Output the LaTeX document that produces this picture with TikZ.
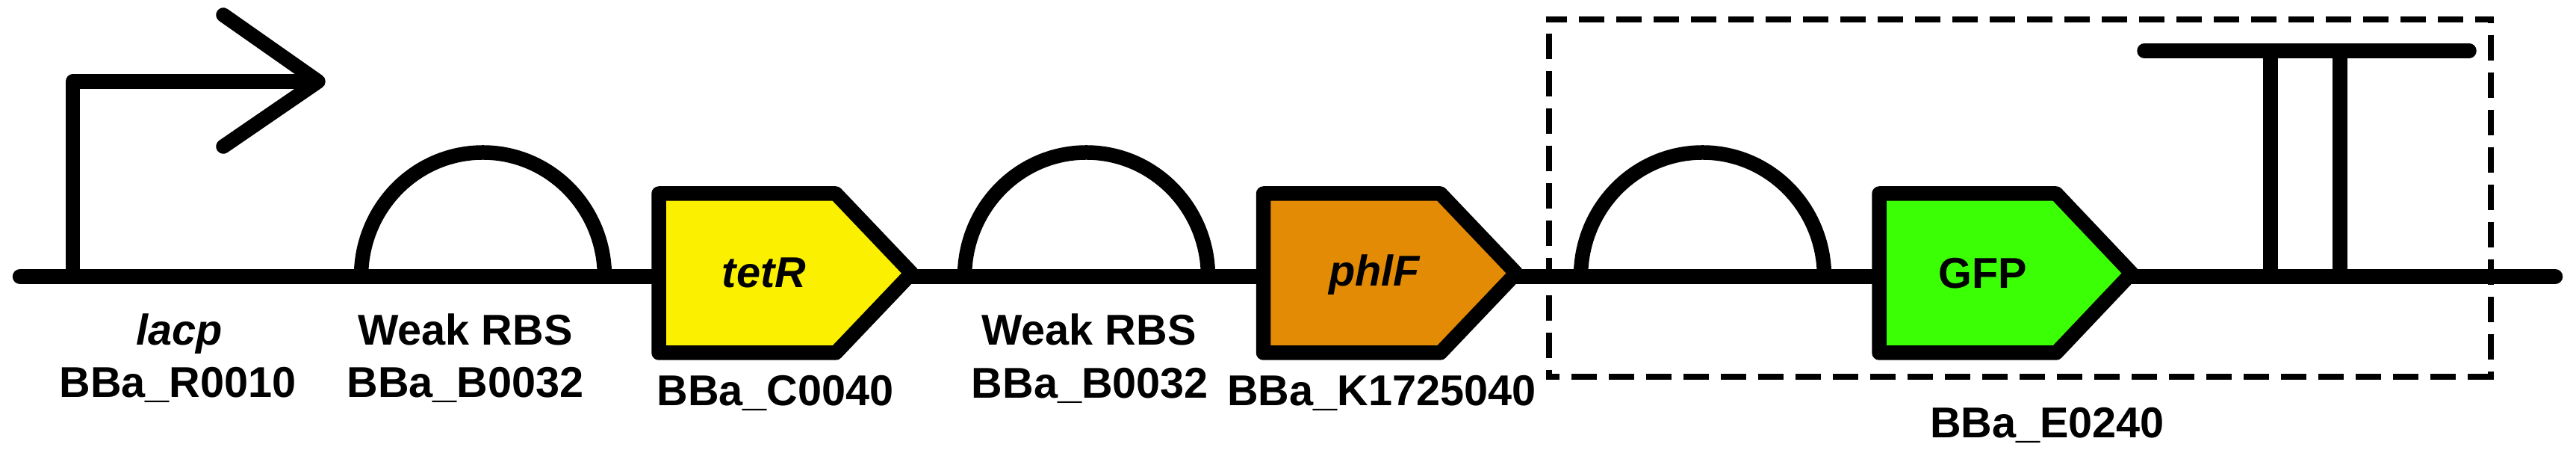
\documentclass[tikz,border=0pt]{standalone}
\usepackage{fontspec}
\setmainfont{Liberation Sans}
\definecolor{tetryellow}{RGB}{250,240,0}
\definecolor{phlforange}{RGB}{228,139,5}
\definecolor{gfpgreen}{RGB}{58,255,5}

\begin{document}
\begin{tikzpicture}[line width=0.195cm,line join=round,
    lbl/.style={inner sep=0pt,anchor=base,line width=0pt,font=\fontsize{16.4}{20}\selectfont\bfseries},
    ilbl/.style={lbl,font=\fontsize{16.4}{20}\selectfont\bfseries\itshape},
    boxdash/.style={line width=0.08cm,dash pattern=on 0.34cm off 0.16cm,shorten <=-0.04cm,shorten >=-0.04cm},
    cds/.style={draw=black,line width=0.195cm},
    rbs/.style={draw=black,line width=0.195cm}]
    \useasboundingbox (0,0) rectangle (34.49,6.10);

    \coordinate (start) at (0.27,2.40);
    \coordinate (end) at (34.21,2.40);
    \coordinate (promoter) at (0.975,2.40);
    \coordinate (term1) at (30.40,2.40);
    \coordinate (term2) at (31.33,2.40);
    \coordinate (nw) at (20.735,5.835);
    \coordinate (ne) at (33.35,5.835);
    \coordinate (sw) at (20.735,1.06);
    \coordinate (se) at (33.35,1.06);

    \draw[line cap=round,line width=0.205cm] (start) -- (end);

    \draw (promoter) -- (0.975,5.01) -- (4.26,5.01);
    \draw[line cap=round] (2.99,5.90) -- (4.26,5.01) -- (2.99,4.14);

    \draw[rbs] (4.835,2.40) arc[start angle=180,end angle=0,x radius=1.63,y radius=1.66] -- cycle;
    \draw[rbs] (12.915,2.40) arc[start angle=180,end angle=0,x radius=1.63,y radius=1.66] -- cycle;
    \draw[rbs] (21.165,2.40) arc[start angle=180,end angle=0,x radius=1.63,y radius=1.66] -- cycle;

    \draw[cds,fill=tetryellow] (8.82,3.51) -- (11.19,3.51) -- (12.205,2.445) -- (11.19,1.38) -- (8.82,1.38) -- cycle;
    \draw[cds,fill=phlforange] (16.915,3.51) -- (19.285,3.51) -- (20.30,2.445) -- (19.285,1.38) -- (16.915,1.38) -- cycle;
    \draw[cds,fill=gfpgreen] (25.16,3.51) -- (27.53,3.51) -- (28.54,2.445) -- (27.53,1.38) -- (25.16,1.38) -- cycle;

    \draw (term1) -- (30.40,5.42);
    \draw (term2) -- (31.33,5.42);
    \draw[line cap=round] (28.71,5.42) -- (33.06,5.42);

    \draw[boxdash,dash phase=0.06cm] (nw) -- (ne);
    \draw[boxdash,dash phase=0.278cm] (nw) -- (sw);
    \draw[boxdash,dash phase=0.258cm] (ne) -- (se);
    \draw[boxdash,dash phase=0.155cm] (sw) -- (se);

    \node[ilbl] (lacp) at (2.40,1.48) {lacp};
    \node[lbl] (r0010) at (2.38,0.78) {BBa\_R0010};
    \node[lbl] (weak1) at (6.23,1.48) {Weak RBS};
    \node[lbl] (b0032a) at (6.23,0.78) {BBa\_B0032};
    \node[ilbl] (tetr) at (10.23,2.255) {tetR};
    \node[lbl] (c0040) at (10.38,0.67) {BBa\_C0040};
    \node[lbl] (weak2) at (14.58,1.48) {Weak RBS};
    \node[lbl] (b0032b) at (14.595,0.77) {BBa\_B0032};
    \node[ilbl] (phlf) at (18.40,2.275) {phlF};
    \node[lbl] (k1725040) at (18.50,0.67) {BBa\_K1725040};
    \node[lbl] (gfp) at (26.55,2.24) {GFP};
    \node[lbl] (e0240) at (27.41,0.24) {BBa\_E0240};
\end{tikzpicture}
\end{document}
